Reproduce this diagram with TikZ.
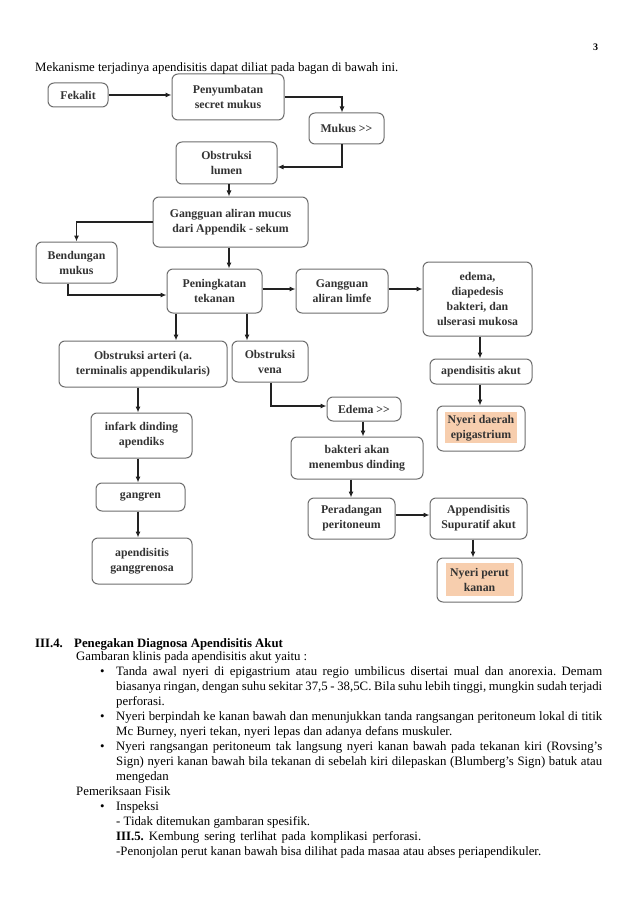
\documentclass[tikz,border=0pt]{standalone}
\usepackage{fontspec}
\setmainfont{Liberation Serif}
\usepackage{graphicx}
\usetikzlibrary{arrows.meta}
\definecolor{boxline}{HTML}{6E6E6E}
\definecolor{boxtext}{HTML}{333333}
\definecolor{peach}{RGB}{247,206,174}
\definecolor{linec}{HTML}{222222}
\frenchspacing
\begin{document}
\begin{tikzpicture}[x=1pt,y=-1pt,
  box/.style={draw=boxline, line width=1pt, rounded corners=6pt, align=center, inner sep=0pt, text=boxtext, font=\fontsize{11.8}{15}\selectfont\bfseries},
  conn/.style={draw=linec, line width=1.1pt, -{Latex[length=6pt,width=5pt]}},
  body/.style={anchor=base west, inner sep=0pt, font=\fontsize{12.8}{15}\selectfont, text=black},
  peachfill/.style={fill=peach, draw=none}
]
\useasboundingbox[fill=white] (0,0) rectangle (638,904);

% ---- boxes ----
\node[box, minimum width=60pt, minimum height=24pt] (fek) at (78,95) {Fekalit};
\node[box, minimum width=112pt, minimum height=46pt] (pen) at (228,97) {Penyumbatan\\secret mukus};
\node[box, minimum width=75pt, minimum height=31pt] (muk) at (346.5,128.5) {Mukus >{}>};
\node[box, minimum width=101pt, minimum height=42pt] (obl) at (226.5,163) {Obstruksi\\lumen};
\node[box, minimum width=155pt, minimum height=50pt] (gam) at (230.5,222) {Gangguan aliran mucus\\dari Appendik - sekum};
\node[box, minimum width=81pt, minimum height=41pt] (ben) at (76.5,262.5) {Bendungan\\mukus};
\node[box, minimum width=95pt, minimum height=44pt] (pet) at (214.5,291) {Peningkatan\\tekanan};
\node[box, minimum width=92pt, minimum height=44pt] (lim) at (342,291) {Gangguan\\aliran limfe};
\node[box, minimum width=109pt, minimum height=74pt] (ede) at (477.5,299) {edema,\\diapedesis\\bakteri, dan\\ulserasi mukosa};
\node[box, minimum width=168pt, minimum height=46pt] (oba) at (143,364) {Obstruksi arteri (a.\\terminalis appendikularis)};
\node[box, minimum width=76pt, minimum height=41pt] (obv) at (270,361.5) {Obstruksi\\vena};
\node[box, minimum width=102pt, minimum height=25pt] (aak) at (481,371.5) {apendisitis akut};
\fill[peachfill] (445,412) rectangle (517,443);
\node[box, minimum width=88pt, minimum height=45pt] (nde) at (481,428.5) {Nyeri daerah\\epigastrium};
\node[box, minimum width=74pt, minimum height=24pt] (edm) at (364,409) {Edema >{}>};
\node[box, minimum width=132pt, minimum height=42pt] (bak) at (357,458) {bakteri akan\\menembus dinding};
\node[box, minimum width=101pt, minimum height=45pt] (inf) at (141.5,435.5) {infark dinding\\apendiks};
\node[box, minimum width=89pt, minimum height=28pt] (gan) at (140.5,497) {gangren};
\node[box, minimum width=100pt, minimum height=46pt] (agg) at (142,561) {apendisitis\\ganggrenosa};
\node[box, minimum width=87pt, minimum height=41pt] (per) at (351.5,518.5) {Peradangan\\peritoneum};
\node[box, minimum width=97pt, minimum height=41pt] (asa) at (478.5,518.5) {Appendisitis\\Supuratif akut};
\fill[peachfill] (446,563) rectangle (514,596);
\node[box, minimum width=85pt, minimum height=44pt] (npk) at (479.5,580) {Nyeri perut\\kanan};

% ---- connectors ----
\draw[conn] (fek.east) -- (fek.east -| pen.west);
\coordinate (c1) at ([xshift=-4.5pt]muk.north);
\draw[conn] (pen.east) -| (c1);
\coordinate (c2) at ([xshift=-4.5pt]muk.south);
\coordinate (c3) at ([yshift=-4pt]obl.east);
\draw[conn] (c2) |- (c3);
\coordinate (c4) at ([xshift=2.5pt]obl.south);
\draw[conn] (c4) -- (c4 |- gam.north);
\coordinate (c5) at ([xshift=-1.5pt]gam.south);
\draw[conn] (c5) -- (c5 |- pet.north);
\draw[conn] (gam.west) -| (ben.north);
\coordinate (c6) at ([xshift=-8.5pt]ben.south);
\coordinate (c7) at ([yshift=-4pt]pet.west);
\draw[conn] (c6) |- (c7);
\coordinate (c8) at ([yshift=2pt]pet.east);
\draw[conn] (c8) -- (c8 -| lim.west);
\coordinate (c9) at ([yshift=2pt]lim.east);
\draw[conn] (c9) -- (c9 -| ede.west);
\coordinate (c10) at ([xshift=-38.5pt]pet.south);
\draw[conn] (c10) -- (c10 |- oba.north);
\coordinate (c11) at ([xshift=32.5pt]pet.south);
\draw[conn] (c11) -- (c11 |- obv.north);
\coordinate (c12) at ([xshift=2.5pt]ede.south);
\draw[conn] (c12) -- (c12 |- aak.north);
\coordinate (c13) at ([xshift=-1pt]aak.south);
\draw[conn] (c13) -- (c13 |- nde.north);
\coordinate (c14) at ([xshift=-5pt]oba.south);
\draw[conn] (c14) -- (c14 |- inf.north);
\coordinate (c15) at ([xshift=-3.5pt]inf.south);
\draw[conn] (c15) -- (c15 |- gan.north);
\coordinate (c16) at ([xshift=-2.5pt]gan.south);
\draw[conn] (c16) -- (c16 |- agg.north);
\coordinate (c17) at ([xshift=1pt]obv.south);
\coordinate (c18) at ([yshift=3pt]edm.west);
\draw[conn] (c17) |- (c18);
\coordinate (c19) at ([xshift=-1pt]edm.south);
\draw[conn] (c19) -- (c19 |- bak.north);
\coordinate (c20) at ([xshift=-6pt]bak.south);
\draw[conn] (c20) -- (c20 |- per.north);
\coordinate (c21) at ([yshift=3.5pt]per.east);
\draw[conn] (c21) -- (c21 -| asa.west);
\coordinate (c22) at ([xshift=-5.5pt]asa.south);
\draw[conn] (c22) -- (c22 |- npk.north);

% ---- text ----
\node[body] (pg) at (593,51) {\fontsize{10}{12}\selectfont\bfseries 3};
\node[body] (intro) at (35,72) {\makebox[363pt][s]{Mekanisme terjadinya apendisitis dapat diliat pada bagan di bawah ini.}};
\node[body] (h1) at (35,647) {\bfseries III.4.};
\node[body] (h2) at (74,647) {\bfseries Penegakan Diagnosa Apendisitis Akut};
\node[body] (t0) at (76,660) {Gambaran klinis pada apendisitis akut yaitu :};
\node[body] (b1) at (100,675) {•};
\node[body] (t1) at (116,675) {\makebox[486pt][s]{Tanda awal nyeri di epigastrium atau regio umbilicus disertai mual dan anorexia. Demam}};
\node[body] (t2) at (116,690) {\makebox[486pt][s]{biasanya ringan, dengan suhu sekitar 37,5 - 38,5C. Bila suhu lebih tinggi, mungkin sudah terjadi}};
\node[body] (t3) at (116,705) {perforasi.};
\node[body] (b2) at (100,720) {•};
\node[body] (t4) at (116,720) {\makebox[486pt][s]{Nyeri berpindah ke kanan bawah dan menunjukkan tanda rangsangan peritoneum lokal di titik}};
\node[body] (t5) at (116,735) {\makebox[336pt][s]{Mc Burney, nyeri tekan, nyeri lepas dan adanya defans muskuler.}};
\node[body] (b3) at (100,750) {•};
\node[body] (t6) at (116,750) {\makebox[486pt][s]{Nyeri rangsangan peritoneum tak langsung nyeri kanan bawah pada tekanan kiri (Rovsing’s}};
\node[body] (t7) at (116,765) {\makebox[486pt][s]{Sign) nyeri kanan bawah bila tekanan di sebelah kiri dilepaskan (Blumberg’s Sign) batuk atau}};
\node[body] (t8) at (116,780) {mengedan};
\node[body] (t9) at (76,795) {Pemeriksaan Fisik};
\node[body] (b4) at (100,810) {•};
\node[body] (t10) at (116,810) {Inspeksi};
\node[body] (t11) at (116,825) {- Tidak ditemukan gambaran spesifik.};
\node[body] (t12) at (116,840) {\makebox[305pt][s]{\textbf{III.5.} Kembung sering terlihat pada komplikasi perforasi.}};
\node[body] (t13) at (116,855) {\makebox[425pt][s]{-Penonjolan perut kanan bawah bisa dilihat pada masaa atau abses periapendikuler.}};
\end{tikzpicture}
\end{document}
